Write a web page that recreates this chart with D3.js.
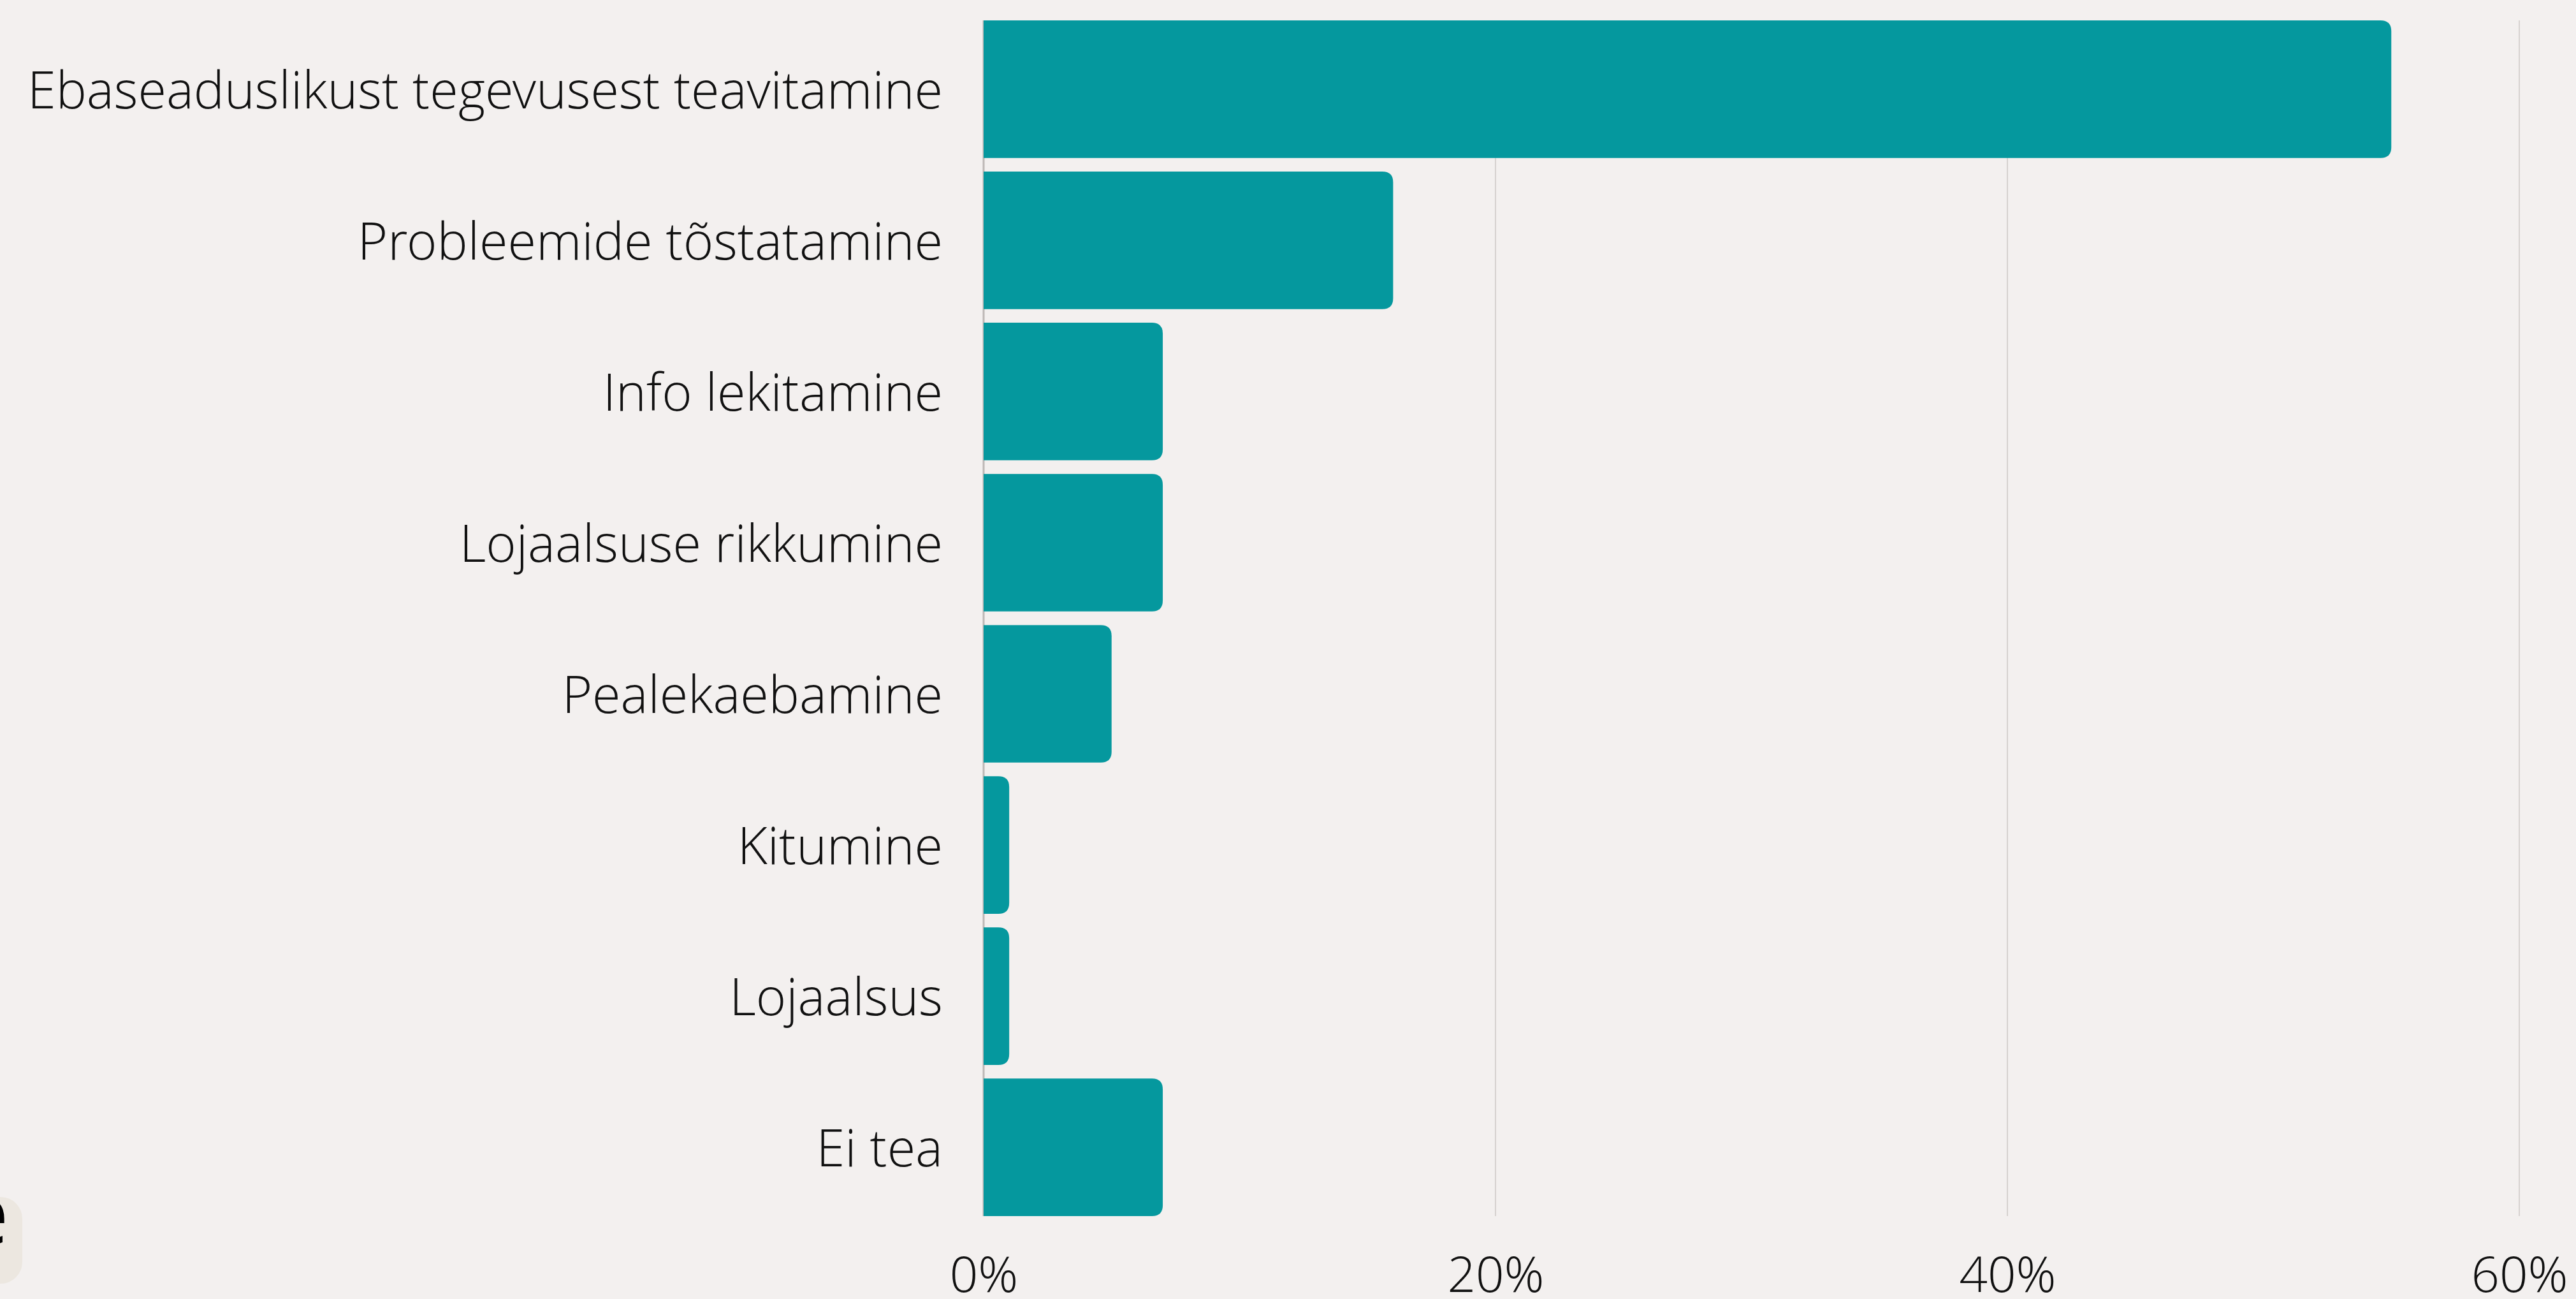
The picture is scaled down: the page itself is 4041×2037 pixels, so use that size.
<!DOCTYPE html>
<html>
<head>
<meta charset="utf-8">
<script src="https://cdn.jsdelivr.net/npm/d3@7.9.0/dist/d3.min.js"></script>
<style>
  html, body { margin: 0; padding: 0; background: #f3f0ef; }
  svg { display: block; }
  text { font-family: 'Open Sans Light', 'Open Sans', sans-serif; font-weight: 300; fill: #111; }
</style>
</head>
<body>
<svg id="chart"></svg>
<script>
// categories and shares
const categories = [
  'Ebaseaduslikust tegevusest teavitamine',
  'Probleemide tõstatamine',
  'Info lekitamine',
  'Lojaalsuse rikkumine',
  'Pealekaebamine',
  'Kitumine',
  'Lojaalsus',
  'Ei tea'
];
const shares = [0.55, 0.16, 0.07, 0.07, 0.05, 0.01, 0.01, 0.07];
const xTicks = [0, 0.2, 0.4, 0.6];

const width = 4041;
const height = 2037;
const margin = { top: 32, right: 89, bottom: 130, left: 1543 };

const svg = d3.select('#chart')
  .attr('width', width)
  .attr('height', height);

const x = d3.scaleLinear()
  .domain([0, 0.6])
  .range([margin.left, width - margin.right]);

const y = d3.scaleBand()
  .domain(categories)
  .range([margin.top, height - margin.bottom])
  .paddingInner(0.09)
  .paddingOuter(0);

// gridlines
svg.append('g')
  .selectAll('line')
  .data(xTicks)
  .join('line')
  .attr('x1', (d) => x(d))
  .attr('x2', (d) => x(d))
  .attr('y1', margin.top)
  .attr('y2', height - margin.bottom)
  .attr('stroke', (d) => d === 0 ? '#bdb8b6' : '#d6d2d0')
  .attr('stroke-width', (d) => d === 0 ? 3 : 2);

// bar with rounded right end
function barPath(d, i) {
  const x0 = x(0);
  const x1 = x(d);
  const y0 = y(categories[i]);
  const h = y.bandwidth();
  const r = Math.min(17, (x1 - x0) / 2);
  return `M${x0},${y0}H${x1 - r}Q${x1},${y0} ${x1},${y0 + r}` +
    `V${y0 + h - r}Q${x1},${y0 + h} ${x1 - r},${y0 + h}H${x0}Z`;
}

svg.append('g')
  .selectAll('path')
  .data(shares)
  .join('path')
  .attr('d', barPath)
  .attr('fill', '#05989e');

// category labels
svg.append('g')
  .selectAll('text')
  .data(categories)
  .join('text')
  .attr('x', margin.left - 64)
  .attr('y', (d) => y(d) + y.bandwidth() / 2)
  .attr('dy', '0.37em')
  .attr('text-anchor', 'end')
  .style('font-size', '81px')
  .text((d) => d);

// x axis tick labels
const xAxis = d3.axisBottom(x)
  .tickValues(xTicks)
  .tickFormat(d3.format('.0%'))
  .tickSize(0)
  .tickPadding(0);

const axisG = svg.append('g')
  .attr('transform', `translate(0,${height - margin.bottom})`)
  .call(xAxis);
axisG.select('.domain').remove();
axisG.selectAll('text')
  .attr('y', 119)
  .attr('dy', 0)
  .style('font-size', '78px')
  .style('font-family', "'Open Sans Light', 'Open Sans', sans-serif")
  .style('font-weight', 300)
  .attr('fill', '#111');

// cut-off logo in the lower left corner
svg.append('rect')
  .attr('x', -120)
  .attr('y', 1877)
  .attr('width', 155)
  .attr('height', 136)
  .attr('rx', 34)
  .attr('fill', '#ece7e0');
svg.append('text')
  .attr('x', 12)
  .attr('y', 1950)
  .attr('text-anchor', 'end')
  .style('font-size', '130px')
  .style('font-weight', 800)
  .style('fill', '#000')
  .text('e');
</script>
</body>
</html>
